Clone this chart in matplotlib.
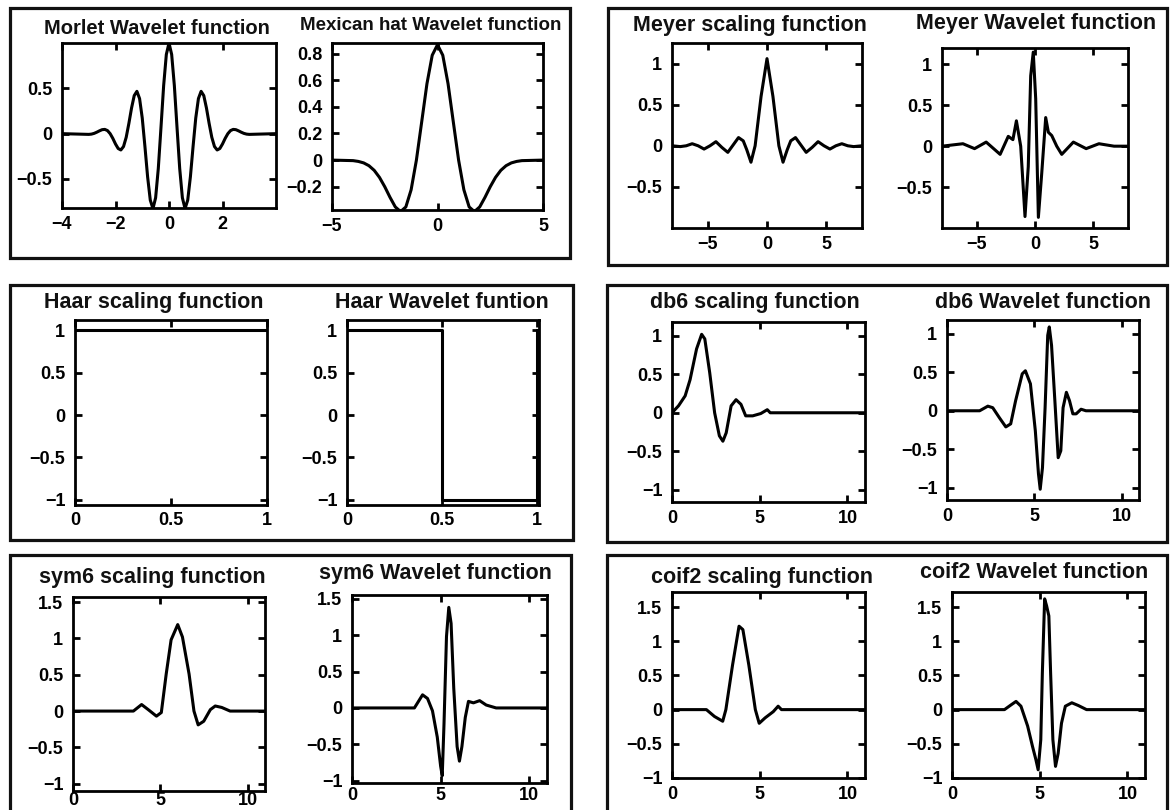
import matplotlib
matplotlib.use("Agg")
import matplotlib.pyplot as plt
from matplotlib.patches import Rectangle

plt.rcParams['font.family'] = ['Liberation Sans', 'DejaVu Sans']
plt.rcParams['font.weight'] = 'bold'

W, H = 1171, 810

# ---------------- data ----------------
morlet_x = [-4.0, -3.0, -2.9, -2.8, -2.7, -2.6, -2.5, -2.4, -2.3, -2.2, -2.1, -2.0, -1.9, -1.8, -1.7,
            -1.6, -1.5, -1.4, -1.3, -1.2, -1.1, -1.0, -0.9, -0.8, -0.7, -0.6, -0.5, -0.4, -0.3, -0.2,
            -0.1, 0.0, 0.1, 0.2, 0.3, 0.4, 0.5, 0.6, 0.7, 0.8, 0.9, 1.0, 1.1, 1.2, 1.3, 1.4, 1.5, 1.6,
            1.7, 1.8, 1.9, 2.0, 2.1, 2.2, 2.3, 2.4, 2.5, 2.6, 2.7, 2.8, 2.9, 3.0, 4.0]
morlet_y = [0.0, -0.008, -0.005, 0.003, 0.016, 0.031, 0.044, 0.047, 0.034, 0.0, -0.052, -0.114, -0.164,
            -0.180, -0.142, -0.040, 0.113, 0.283, 0.420, 0.467, 0.387, 0.172, -0.141, -0.475, -0.733,
            -0.827, -0.707, -0.384, 0.068, 0.530, 0.873, 1.0, 0.873, 0.530, 0.068, -0.384, -0.707,
            -0.827, -0.733, -0.475, -0.141, 0.172, 0.387, 0.467, 0.420, 0.283, 0.113, -0.040, -0.142,
            -0.180, -0.164, -0.114, -0.052, 0.0, 0.034, 0.047, 0.044, 0.031, 0.016, 0.003, -0.005,
            -0.008, 0.0]

mexhat_x = [-5.0, -4.0, -3.75, -3.5, -3.25, -3.0, -2.75, -2.5, -2.25, -2.0, -1.75, -1.5, -1.25, -1.0,
            -0.75, -0.5, -0.25, 0.0, 0.25, 0.5, 0.75, 1.0, 1.25, 1.5, 1.75, 2.0, 2.25, 2.5, 2.75, 3.0,
            3.25, 3.5, 3.75, 4.0, 5.0]
mexhat_y = [0.0, -0.004, -0.010, -0.021, -0.042, -0.077, -0.130, -0.200, -0.280, -0.352, -0.387, -0.352,
            -0.223, 0.0, 0.286, 0.574, 0.788, 0.867, 0.788, 0.574, 0.286, 0.0, -0.223, -0.352, -0.387,
            -0.352, -0.280, -0.200, -0.130, -0.077, -0.042, -0.021, -0.010, -0.004, 0.0]

meyer_phi_x = [-8.0, -7.3, -6.8, -6.3, -5.8, -5.3, -4.8, -4.3, -3.8, -3.3, -2.8, -2.4, -2.0, -1.7, -1.35,
               -1.0, -0.5, 0.0, 0.5, 1.0, 1.35, 1.7, 2.0, 2.4, 2.8, 3.3, 3.8, 4.3, 4.8, 5.3, 5.8, 6.3,
               6.8, 7.3, 8.0]
meyer_phi_y = [0.0, -0.01, 0.0, 0.025, 0.0, -0.04, 0.0, 0.05, -0.02, -0.08, 0.02, 0.10, 0.06, -0.05,
               -0.20, 0.0, 0.60, 1.06, 0.60, 0.0, -0.20, -0.05, 0.06, 0.10, 0.02, -0.08, -0.02, 0.05,
               0.0, -0.04, 0.0, 0.025, 0.0, -0.01, 0.0]

meyer_psi_x = [-8.0, -6.2, -5.2, -4.2, -3.0, -2.3, -1.9, -1.6, -1.23, -0.86, -0.58, -0.37, -0.15, 0.06,
               0.29, 0.58, 0.92, 1.15, 1.44, 1.87, 2.3, 3.3, 4.4, 5.5, 6.8, 8.0]
meyer_psi_y = [0.0, 0.03, -0.03, 0.05, -0.10, 0.12, 0.08, 0.31, 0.0, -0.86, -0.25, 0.86, 1.15, 0.58,
               -0.87, -0.33, 0.35, 0.17, 0.13, 0.0, -0.10, 0.05, -0.03, 0.03, 0.0, 0.0]

haar_phi_x = [0.0, 1.0]
haar_phi_y = [1.0, 1.0]
haar_psi_x = [0.0, 0.5, 0.5, 1.0, 1.0]
haar_psi_y = [1.0, 1.0, -1.0, -1.0, 1.0]

db6_phi_x = [0.0, 0.37, 0.75, 1.03, 1.4, 1.69, 1.87, 2.15, 2.43, 2.7, 2.9, 3.09, 3.37, 3.65, 3.93,
             4.2, 4.6, 5.06, 5.43, 5.6, 11.0]
db6_phi_y = [0.0, 0.09, 0.22, 0.43, 0.83, 1.02, 0.96, 0.52, 0.0, -0.30, -0.37, -0.26, 0.09, 0.17, 0.11,
             -0.04, -0.04, -0.01, 0.04, 0.0, 0.0]

db6_psi_x = [0.0, 1.87, 2.34, 2.62, 3.0, 3.37, 3.65, 3.93, 4.31, 4.49, 4.78, 5.06, 5.24, 5.34, 5.47,
             5.62, 5.77, 5.86, 5.99, 6.18, 6.37, 6.52, 6.65, 6.84, 7.02, 7.21, 7.4, 7.68, 7.96, 11.0]
db6_psi_y = [0.0, 0.0, 0.06, 0.04, -0.09, -0.21, -0.17, 0.13, 0.48, 0.52, 0.35, -0.26, -0.82, -1.02,
             -0.74, 0.04, 0.98, 1.09, 0.85, 0.13, -0.61, -0.52, 0.04, 0.24, 0.13, -0.04, -0.04, 0.02,
             0.0, 0.0]

sym6_phi_x = [0.0, 3.46, 3.93, 4.31, 4.78, 5.06, 5.34, 5.62, 6.0, 6.27, 6.65, 6.93, 7.17, 7.49, 7.87,
              8.15, 8.52, 9.0, 11.0]
sym6_phi_y = [0.0, 0.0, 0.09, 0.02, -0.07, -0.02, 0.51, 0.98, 1.19, 1.02, 0.51, 0.0, -0.19, -0.14,
              0.02, 0.07, 0.05, 0.0, 0.0]

sym6_psi_x = [0.0, 3.52, 3.98, 4.26, 4.54, 4.81, 5.0, 5.09, 5.19, 5.33, 5.46, 5.59, 5.74, 5.93, 6.06,
              6.2, 6.39, 6.57, 6.85, 7.2, 7.57, 8.13, 11.0]
sym6_psi_y = [0.0, 0.0, 0.18, 0.13, -0.04, -0.40, -0.80, -0.93, -0.22, 0.98, 1.38, 1.16, 0.27, -0.53,
              -0.73, -0.53, -0.13, 0.09, 0.07, 0.10, 0.04, 0.0, 0.0]

coif2_phi_x = [0.0, 1.96, 2.42, 2.89, 3.07, 3.45, 3.82, 4.04, 4.38, 4.75, 4.97, 5.31, 5.77, 6.05, 6.24,
               11.0]
coif2_phi_y = [0.0, 0.0, -0.10, -0.17, 0.0, 0.65, 1.22, 1.17, 0.65, 0.0, -0.20, -0.12, -0.03, 0.05,
               0.0, 0.0]

coif2_psi_x = [0.0, 2.99, 3.37, 3.65, 3.93, 4.31, 4.59, 4.78, 4.91, 5.06, 5.15, 5.28, 5.39, 5.52, 5.62,
               5.75, 5.9, 6.05, 6.24, 6.46, 6.83, 7.2, 7.67, 11.0]
coif2_psi_y = [0.0, 0.0, 0.07, 0.12, 0.05, -0.24, -0.54, -0.73, -0.88, -0.44, 0.54, 1.62, 1.52, 1.37,
               0.54, -0.44, -0.83, -0.64, -0.20, 0.05, 0.10, 0.06, 0.0, 0.0]

titles = ["Morlet Wavelet function", "Mexican hat Wavelet function",
          "Meyer scaling function", "Meyer Wavelet function",
          "Haar scaling function", "Haar Wavelet funtion",
          "db6 scaling function", "db6 Wavelet function",
          "sym6 scaling function", "sym6 Wavelet function",
          "coif2 scaling function", "coif2 Wavelet function"]

# ---------------- layout (pixels) ----------------
panels = [
    # (x, y, box l,r,t,b, xlim, ylim, xticks, yticks, title cx, title cy, title size, x label pad)
    (morlet_x, morlet_y, (62, 276, 43, 208), (-4, 4), (-0.82, 1.0), [-4, -2, 0, 2], [-0.5, 0, 0.5], 157, 28, 14.5, 6),
    (mexhat_x, mexhat_y, (332, 543, 43, 210), (-5, 5), (-0.375, 0.88), [-5, 0, 5], [-0.2, 0, 0.2, 0.4, 0.6, 0.8], 431, 25, 13.5, 6),
    (meyer_phi_x, meyer_phi_y, (672, 862, 43, 228), (-8, 8), (-1.0, 1.25), [-5, 0, 5], [-0.5, 0, 0.5, 1], 750, 25, 15.5, 6),
    (meyer_psi_x, meyer_psi_y, (942, 1128, 48, 228), (-8, 8), (-1.0, 1.2), [-5, 0, 5], [-0.5, 0, 0.5, 1], 1036, 24, 15.5, 6),
    (haar_phi_x, haar_phi_y, (75, 267, 320, 505), (0, 1), (-1.06, 1.12), [0, 0.5, 1], [-1, -0.5, 0, 0.5, 1], 154, 302, 15.5, 5),
    (haar_psi_x, haar_psi_y, (347, 539, 320, 505), (0, 1.01), (-1.06, 1.12), [0, 0.5, 1], [-1, -0.5, 0, 0.5, 1], 442, 302, 15.5, 5),
    (db6_phi_x, db6_phi_y, (672, 865, 322, 502), (0, 11), (-1.16, 1.18), [0, 5, 10], [-1, -0.5, 0, 0.5, 1], 755, 303, 15.5, 6),
    (db6_psi_x, db6_psi_y, (947, 1139, 320, 500), (0, 11), (-1.16, 1.18), [0, 5, 10], [-1, -0.5, 0, 0.5, 1], 1043, 302, 15.5, 6),
    (sym6_phi_x, sym6_phi_y, (73, 265, 597, 791), (0, 11), (-1.1, 1.57), [0, 5, 10], [-1, -0.5, 0, 0.5, 1, 1.5], 152, 577, 15.5, 1),
    (sym6_psi_x, sym6_psi_y, (352, 547, 595, 783), (0, 11), (-1.03, 1.55), [0, 5, 10], [-1, -0.5, 0, 0.5, 1, 1.5], 435, 573, 15.5, 3),
    (coif2_phi_x, coif2_phi_y, (672, 865, 592, 778), (0, 11), (-1.0, 1.72), [0, 5, 10], [-1, -0.5, 0, 0.5, 1, 1.5], 762, 577, 15.5, 6),
    (coif2_psi_x, coif2_psi_y, (952, 1145, 592, 778), (0, 11), (-1.0, 1.72), [0, 5, 10], [-1, -0.5, 0, 0.5, 1, 1.5], 1034, 573, 15.5, 6),
]

frames = [(10, 570, 8, 258), (608, 1167, 8, 265),
          (10, 573, 285, 540), (607, 1167, 285, 542),
          (10, 571, 555, 815), (607, 1167, 555, 815)]


def fmt(v):
    if float(v).is_integer():
        s = str(int(v))
    else:
        s = ("%g" % v)
    return s.replace("-", "\u2212")


fig = plt.figure(figsize=(W / 100, H / 100), dpi=100)
fig.patch.set_facecolor("white")

for (l, r, t, b) in frames:
    fig.patches.append(Rectangle((l / W, 1 - b / H), (r - l) / W, (b - t) / H,
                                 transform=fig.transFigure, fill=False,
                                 edgecolor="#111111", linewidth=2.3, zorder=0))

for (xs, ys, box, xl, yl, xt, yt, tx, ty, tsize, xpad), title in zip(panels, titles):
    l, r, t, b = box
    ax = fig.add_axes([l / W, 1 - b / H, (r - l) / W, (b - t) / H])
    ax.plot(xs, ys, color="black", linewidth=2.2, solid_joinstyle="round")
    ax.set_xlim(*xl)
    ax.set_ylim(*yl)
    ax.set_xticks(xt)
    ax.set_yticks(yt)
    ax.set_xticklabels([fmt(v) for v in xt])
    ax.set_yticklabels([fmt(v) for v in yt])
    ax.tick_params(direction="in", length=5, width=2, top=True, right=True,
                   labelsize=13)
    ax.tick_params(axis="y", pad=7)
    ax.tick_params(axis="x", pad=xpad)
    for lab in ax.get_xticklabels() + ax.get_yticklabels():
        lab.set_fontweight("bold")
    for sp in ax.spines.values():
        sp.set_linewidth(2.0)
    fig.text(tx / W, 1 - ty / H, title, ha="center", va="center",
             fontsize=tsize, fontweight="bold", color="#111111")

fig.savefig("out.png", dpi=100, facecolor="white")
